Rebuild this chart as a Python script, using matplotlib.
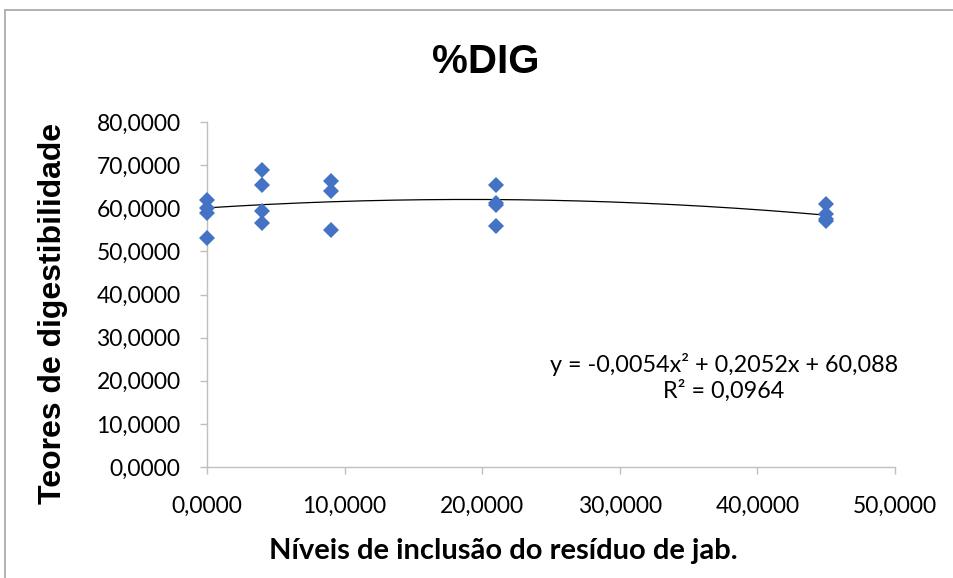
#!/usr/bin/env python
"""Scatter of digestibility vs inclusion level with quadratic trendline."""

import numpy as np
import matplotlib
matplotlib.use('Agg')
import matplotlib.pyplot as plt
from matplotlib.patches import Rectangle
from matplotlib.ticker import FuncFormatter


# data
niveis = [0, 0, 0, 0, 4, 4, 4, 4, 9, 9, 9, 21, 21, 21, 21, 45, 45, 45, 45]
dig = [61.8, 60.0, 58.8, 53.0, 68.9, 65.3, 59.3, 56.5, 66.4, 64.1, 55.0,
       65.4, 61.2, 60.7, 55.8, 61.1, 58.6, 57.5, 57.1]

# trendline coefficients as printed on the chart
coef = [-0.0054, 0.2052, 60.088]
r2 = 0.0964

xticks = [0, 10, 20, 30, 40, 50]
yticks = [0, 10, 20, 30, 40, 50, 60, 70, 80]


def comma(v, pos=None):
    return '{:.4f}'.format(v).replace('.', ',')


def main():
    fig = plt.figure(figsize=(9.54, 5.78), dpi=100)
    ax = fig.add_axes([207/954, 111/578, 688/954, 345/578])

    # chart area border (runs off the right and bottom edges)
    fig.patches.append(Rectangle((5.5/954, -0.1), 1.2, (578 - 9.5)/578 + 0.1,
                                 transform=fig.transFigure, fill=False,
                                 edgecolor='#a6a6a6', linewidth=1.2))

    # points and trendline
    ax.plot(niveis, dig, 'D', color='#4472c4', markersize=8.2,
            markeredgewidth=0, zorder=3, clip_on=False)
    xx = np.linspace(0, 45, 200)
    ax.plot(xx, np.polyval(coef, xx), color='k', linewidth=0.9, zorder=2)

    # axes
    ax.set_xlim(0, 50)
    ax.set_ylim(0, 80)
    ax.set_xticks(xticks)
    ax.set_yticks(yticks)
    ax.xaxis.set_major_formatter(FuncFormatter(comma))
    ax.yaxis.set_major_formatter(FuncFormatter(comma))
    for side in ['top', 'right']:
        ax.spines[side].set_visible(False)
    for side in ['left', 'bottom']:
        ax.spines[side].set_color('#bfbfbf')
        ax.spines[side].set_linewidth(1.0)
    ax.tick_params(axis='both', colors='#bfbfbf', labelcolor='black',
                   length=5, width=1.0, labelsize=16.5)
    ax.tick_params(axis='y', pad=14)
    ax.tick_params(axis='x', pad=16)
    for lbl in ax.get_xticklabels() + ax.get_yticklabels():
        lbl.set_family('Lato')

    # texts
    fig.text(486/954, 1 - 62/578, '%DIG', ha='center', va='center',
             family='Liberation Sans', weight='bold', fontsize=29)
    fig.text(53/954, 1 - 313/578, 'Teores de digestibilidade', ha='center',
             va='center', rotation=90, family='Liberation Sans',
             weight='bold', fontsize=23)
    fig.text(503/954, 1 - 551/578, 'Níveis de inclusão do resíduo de jab.',
             ha='center', va='center', family='Lato', weight='bold',
             fontsize=21)
    eq = 'y = -0,0054x² + 0,2052x + 60,088\nR² = ' + comma(r2)
    fig.text(724/954, 1 - 377/578, eq, ha='center', va='center',
             family='Lato', fontsize=16.8, linespacing=1.2)

    fig.savefig('out.png', dpi=100)
    plt.close(fig)


if __name__ == '__main__':
    main()
